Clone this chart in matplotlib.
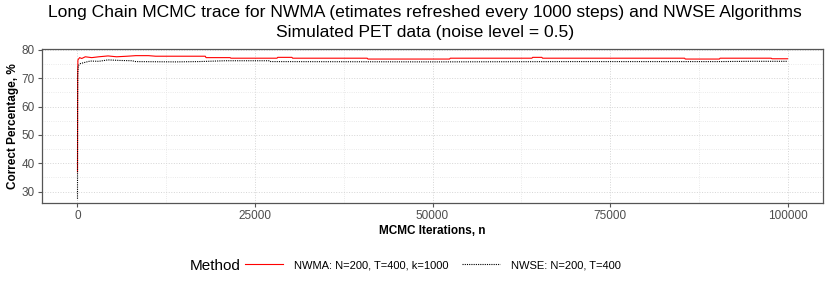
import matplotlib
matplotlib.use("Agg")
import matplotlib.pyplot as plt
from matplotlib.ticker import MultipleLocator

plt.rcParams['font.family'] = ['Liberation Sans', 'DejaVu Sans']

# trace key points (iteration, correct %)
nwma_iter = [0, 20, 60, 300, 600, 1100, 2000, 3000, 4300, 5500, 7000, 8200,
             10000, 11000, 18000, 18100, 21500, 21600, 28100, 28200, 30200,
             30300, 40800, 40900, 52400, 52500, 64000, 64100, 65400, 65500,
             85500, 85600, 90400, 90500, 97700, 97800, 100000]
nwma_pct = [37.0, 70.0, 76.5, 77.3, 77.0, 77.6, 77.3, 77.6, 77.9, 77.6, 77.8, 78.0,
            78.0, 77.8, 77.8, 77.3, 77.3, 77.1, 77.1, 77.4, 77.4,
            77.1, 77.1, 76.8, 76.8, 77.1, 77.1, 77.4, 77.4, 77.1,
            77.1, 76.8, 76.8, 77.1, 77.1, 76.9, 76.9]

nwse_iter = [0, 15, 40, 120, 400, 1000, 1800, 3000, 4300, 6000, 7700, 8200,
             13800, 17000, 20800, 27100, 27200, 50000, 70000, 90000, 95000, 100000]
nwse_pct = [27.5, 60.0, 72.0, 74.5, 75.2, 75.6, 76.1, 76.0, 76.5, 76.3, 76.2, 75.9,
            75.8, 75.9, 76.2, 76.2, 75.9, 75.8, 75.9, 75.9, 76.0, 76.0]

labels = ["NWMA: N=200, T=400, k=1000", "NWSE: N=200, T=400"]

fig = plt.figure(figsize=(8.3, 2.87), dpi=100)
ax = fig.add_axes([0.0506, 0.2927, 0.941, 0.5366])

l1, = ax.plot(nwma_iter, nwma_pct, color='#ff0000', lw=0.8)
l2, = ax.plot(nwse_iter, nwse_pct, color='black', lw=0.8, linestyle=(0, (1, 1)))

ax.set_xlim(-5000, 105000)
ax.set_ylim(26, 80.35)
ax.xaxis.set_major_locator(MultipleLocator(25000))
ax.xaxis.set_minor_locator(MultipleLocator(12500))
ax.yaxis.set_major_locator(MultipleLocator(10))
ax.yaxis.set_minor_locator(MultipleLocator(5))
ax.set_yticks([30, 40, 50, 60, 70, 80])

ax.grid(which='major', color='#d5d5d5', linestyle=':', lw=0.7)
ax.grid(which='minor', color='#e3e3e3', linestyle=':', lw=0.6)
ax.set_axisbelow(True)
ax.tick_params(which='minor', length=0)
ax.tick_params(which='major', length=3, color='#555555', labelcolor='#4d4d4d',
               labelsize=8.5, pad=2)
for s in ax.spines.values():
    s.set_color('#555555')
    s.set_linewidth(0.9)

ax.set_xlabel("MCMC Iterations, n", fontsize=8.5, fontweight='bold', labelpad=2)
ax.set_ylabel("Correct Percentage, %", fontsize=8.5, fontweight='bold', labelpad=2)

fig.text(425 / 830, 1 - 12 / 287, "Long Chain MCMC trace for NWMA (etimates refreshed every 1000 steps) and NWSE Algorithms",
         ha='center', va='center', fontsize=12.6)
fig.text(425 / 830, 1 - 32 / 287, "Simulated PET data (noise level = 0.5)",
         ha='center', va='center', fontsize=12.6)

fig.text(190 / 830, 1 - 266 / 287, "Method", ha='left', va='center', fontsize=11)
fig.legend([l1, l2], labels, loc='center left', bbox_to_anchor=(245 / 830, 1 - 265 / 287),
           ncol=2, frameon=False, fontsize=8, handlelength=3.4, handletextpad=1.0,
           columnspacing=1.2, borderpad=0, borderaxespad=0)

fig.savefig("out.png", dpi=100)
